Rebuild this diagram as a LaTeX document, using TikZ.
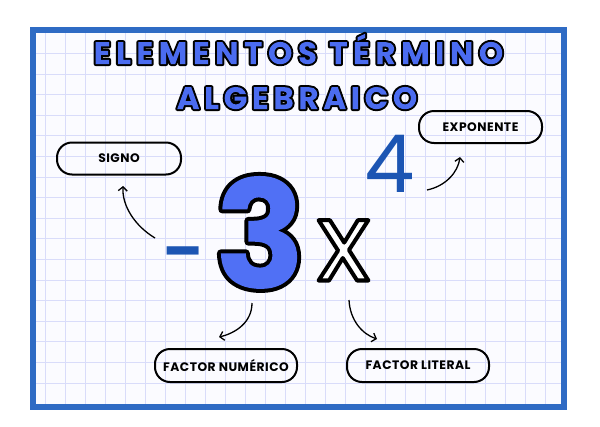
\documentclass[tikz,border=0pt]{standalone}
\usepackage{fontspec}
\usetikzlibrary{arrows.meta}
\setmainfont{Poppins}
\newfontfamily\titlefont{Poppins}[LetterSpace=18]
\newfontfamily\titlefontb{Poppins}[LetterSpace=15]
\newfontfamily\labelfont{Poppins}[LetterSpace=4]
\newfontfamily\digitfont{Poppins}
\definecolor{frameblue}{HTML}{2F6BC4}
\definecolor{titleblue}{HTML}{4B6CF0}
\definecolor{threeblue}{HTML}{5070F5}
\definecolor{darkblue}{HTML}{1C55B3}
\definecolor{gridc}{HTML}{D9DCFA}
\definecolor{paper}{HTML}{FBFBFF}
% text filled in the current colour with a black outline outside the glyphs (#1 = twice the outline width)
\newcommand{\outsidering}[2]{\special{pdf:literal direct q 6 Tr #1 w 1 j 0 0 0 RG}#2\special{pdf:literal direct -3000 -3000 6000 6000 re f Q}}
% text filled in the current colour with a centred black stroke
\newcommand{\centredring}[2]{\special{pdf:literal direct 2 Tr #1 w 1 j 0 0 0 RG}#2\special{pdf:literal direct 0 Tr}}
\begin{document}
\begin{tikzpicture}[x=1pt,y=-1pt,
  pill/.style={draw=black,line width=2pt,rounded corners=15pt,minimum height=32pt,inner sep=0pt,
    font=\labelfont\bfseries\fontsize{12.3}{12.3}\selectfont},
  conn/.style={line width=1.3pt,-{Straight Barb[length=4pt,width=9pt]}},
  bigtxt/.style={inner sep=0pt}]
\useasboundingbox (0,0) rectangle (600,426);
\fill[white] (0,0) rectangle (600,426);
\fill[frameblue] (30,27) rectangle (567,410);
\fill[paper] (36,33) rectangle (561,404);
\foreach \i in {0,...,25} \draw[gridc,line width=1pt] (45+20*\i,33) -- (45+20*\i,404);
\foreach \j in {0,...,16} \draw[gridc,line width=1pt] (36,53.5+20.6*\j) -- (561,53.5+20.6*\j);

% title
\node[bigtxt,anchor=base] (t1) at (298.5,64) {\titlefont\bfseries\fontsize{31}{31}\selectfont\textcolor{titleblue}{\outsidering{4}{ELEMENTOS TÉRMINO}}};
\node[bigtxt,anchor=base] (t2) at (297,109) {\titlefontb\bfseries\fontsize{31}{31}\selectfont\textcolor{titleblue}{\outsidering{4}{ALGEBRAICO}}};

% term
\node[bigtxt,anchor=base,yscale=1.35] (minus) at (185,290) {\digitfont\fontsize{80}{80}\selectfont\textcolor{darkblue}{-}};
\node[bigtxt,anchor=base] (three) at (260,288) {\digitfont\bfseries\fontsize{150}{150}\selectfont\textcolor{threeblue}{\outsidering{8}{3}}};
\node[bigtxt,anchor=base] (xvar) at (343.5,280.5) {\digitfont\fontsize{110}{110}\selectfont\textcolor{white}{\centredring{4}{x}}};
\node[bigtxt,anchor=base] (four) at (390,192) {\digitfont\fontsize{80}{80}\selectfont\textcolor{darkblue}{4}};

% labels
\node[pill,minimum width=124pt] (signo) at (119,158.5) {SIGNO};
\node[pill,minimum width=123pt] (expo) at (480.5,127) {EXPONENTE};
\node[pill,minimum width=142pt,minimum height=33pt] (fnum) at (226,365.5) {FACTOR NUMÉRICO};
\node[pill,minimum width=142pt,minimum height=33pt] (flit) at (418,365.5) {FACTOR LITERAL};

% connectors
\coordinate (sgT) at (155,238);
\coordinate (sgH) at (123,186);
\coordinate (exT) at (427,190);
\coordinate (exH) at (460,157);
\coordinate (fnT) at (252,303);
\coordinate (fnH) at (219,337);
\coordinate (flT) at (349,300);
\coordinate (flH) at (377,339);
\draw[conn] (sgT) .. controls (135,226) and (122,206) .. (sgH);
\draw[conn] (exT) .. controls (446,186) and (458,172) .. (exH);
\draw[conn] (fnT) .. controls (252,322) and (236,333) .. (fnH);
\draw[conn] (flT) .. controls (350,320) and (362,334) .. (flH);
\end{tikzpicture}
\end{document}
